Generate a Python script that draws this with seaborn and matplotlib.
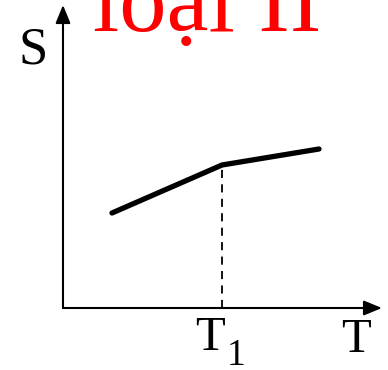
import matplotlib
matplotlib.use("Agg")
import matplotlib.pyplot as plt
import seaborn as sns
import pandas as pd

sns.set_style("white")
plt.rcParams["font.family"] = ["Liberation Serif", "DejaVu Serif"]

# Entropy S versus temperature T for a second-order transition at T1
temperature = [49, 159, 256]
entropy = [95, 143, 159]
t1 = 159
title_text = "loại II"
x_label = "T"
y_label = "S"
tick_main, tick_sub = "T", "1"

W, H = 388, 370
fig = plt.figure(figsize=(W / 100, H / 100), dpi=100)
x0, y0, x1, y1 = 63, 308, 382, 5
ax = fig.add_axes([x0 / W, (H - y0) / H, (x1 - x0) / W, (y0 - y1) / H])
ax.set_xlim(0, x1 - x0)
ax.set_ylim(0, y0 - y1)
ax.axis("off")

df = pd.DataFrame({"T": temperature, "S": entropy})
sns.lineplot(data=df, x="T", y="S", ax=ax, color="black", linewidth=3.8,
             solid_joinstyle="miter", clip_on=False)
ax.plot([t1, t1], [0, entropy[1]], color="black", linewidth=1.3,
        linestyle=(0, (4.5, 3.5)))

# axes with arrowheads
arrow = dict(arrowstyle="-|>,head_length=1.1,head_width=0.45", color="black",
             linewidth=1.5, shrinkA=0, shrinkB=0)
ax.annotate("", xy=(1, 0), xytext=(0, 0), xycoords="axes fraction",
            arrowprops=arrow, annotation_clip=False)
ax.annotate("", xy=(0, 1), xytext=(0, 0), xycoords="axes fraction",
            arrowprops=arrow, annotation_clip=False)

def px(x, y):
    return x / W, 1 - y / H

fig.text(*px(33.5, 64), y_label, fontsize=38, color="black",
         ha="center", va="baseline")
fig.text(*px(356, 352), x_label, fontsize=35, color="black",
         ha="center", va="baseline")
fig.text(*px(195, 350), tick_main, fontsize=35, color="black",
         ha="left", va="baseline")
fig.text(*px(227, 365), tick_sub, fontsize=27, color="black",
         ha="left", va="baseline")
fig.text(*px(207, 31), title_text, fontsize=68, color="red",
         ha="center", va="baseline")

fig.savefig("out.png", dpi=100)
